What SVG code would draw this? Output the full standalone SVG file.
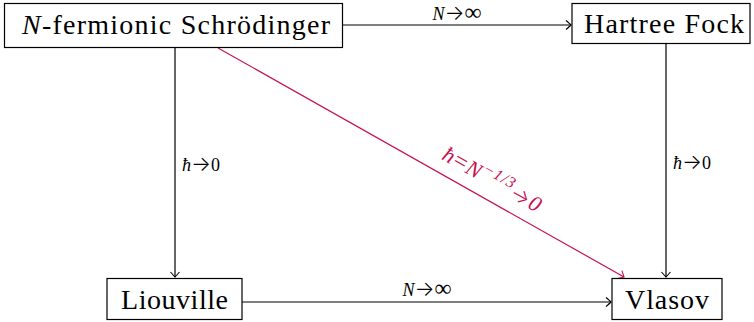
<svg xmlns="http://www.w3.org/2000/svg" width="754" height="322" viewBox="0 0 754 322">
<defs>
<style>
.box{fill:#fff;stroke:#000;stroke-width:1.2}
.nt{font-family:"Liberation Serif","DejaVu Serif",serif;font-size:28px;fill:#000}
.lb{font-family:"Liberation Serif","DejaVu Serif",serif;font-size:18px;fill:#000}
.ar{font-family:Inter,"DejaVu Sans",sans-serif;font-size:21px;font-style:normal;font-weight:300}
.e{fill:none;stroke:#000;stroke-width:1.2}
.r{fill:none;stroke:#c8104e;stroke-width:1.2}
</style>
<marker id="ah" viewBox="-6 -6 8 12" markerWidth="8" markerHeight="12" refX="0" refY="0" orient="auto" markerUnits="userSpaceOnUse">
<path d="M-5,-4.5 Q-1,-1 0,0 Q-1,1 -5,4.5" fill="none" stroke="#000" stroke-width="1.1"/>
</marker>
<marker id="ahr" viewBox="-6 -6 8 12" markerWidth="8" markerHeight="12" refX="0" refY="0" orient="auto" markerUnits="userSpaceOnUse">
<path d="M-5,-4.5 Q-1,-1 0,0 Q-1,1 -5,4.5" fill="none" stroke="#c8104e" stroke-width="1.1"/>
</marker>
</defs>
<g id="connectors">
<line class="e" x1="343" y1="25" x2="571" y2="25" marker-end="url(#ah)"/>
<text class="lb" x="457" y="20" text-anchor="middle"><tspan font-style="italic">N</tspan><tspan class="ar">→</tspan><tspan font-size="24">∞</tspan></text>
<line class="e" x1="175" y1="48" x2="175" y2="277" marker-end="url(#ah)"/>
<text class="lb" x="182" y="171"><tspan font-style="italic">ħ</tspan><tspan class="ar">→</tspan>0</text>
<line class="e" x1="666" y1="44" x2="666" y2="277" marker-end="url(#ah)"/>
<text class="lb" x="673" y="169"><tspan font-style="italic">ħ</tspan><tspan class="ar">→</tspan>0</text>
<line class="e" x1="242" y1="302" x2="611" y2="302" marker-end="url(#ah)"/>
<text class="lb" x="427" y="296" text-anchor="middle"><tspan font-style="italic">N</tspan><tspan class="ar">→</tspan><tspan font-size="24">∞</tspan></text>
<line class="r" x1="218" y1="48" x2="624" y2="277" marker-end="url(#ahr)"/>
<text class="lb" style="fill:#c8104e;font-style:italic;font-size:22px;letter-spacing:1px" transform="translate(489,186) rotate(29.4)" text-anchor="middle">ħ<tspan font-style="normal" font-size="24">=</tspan>N<tspan font-size="16" dy="-9">−1/3</tspan><tspan class="ar" font-size="23" dy="9">→</tspan>0</text>
</g>
<g id="schrodinger">
<rect class="box" x="4.5" y="3.5" width="338" height="44"/>
<text class="nt" x="22" y="34" textLength="308" lengthAdjust="spacing"><tspan font-style="italic">N</tspan>-fermionic Schrödinger</text>
</g>
<g id="hartree">
<rect class="box" x="572" y="3.5" width="178" height="40"/>
<text class="nt" x="584" y="33" textLength="160" lengthAdjust="spacing">Hartree Fock</text>
</g>
<g id="liouville">
<rect class="box" x="107" y="278.5" width="135" height="41"/>
<text class="nt" x="121" y="309" textLength="107" lengthAdjust="spacing">Liouville</text>
</g>
<g id="vlasov">
<rect class="box" x="612" y="278.5" width="110" height="41"/>
<text class="nt" x="625" y="309" textLength="84" lengthAdjust="spacing">Vlasov</text>
</g>
</svg>
